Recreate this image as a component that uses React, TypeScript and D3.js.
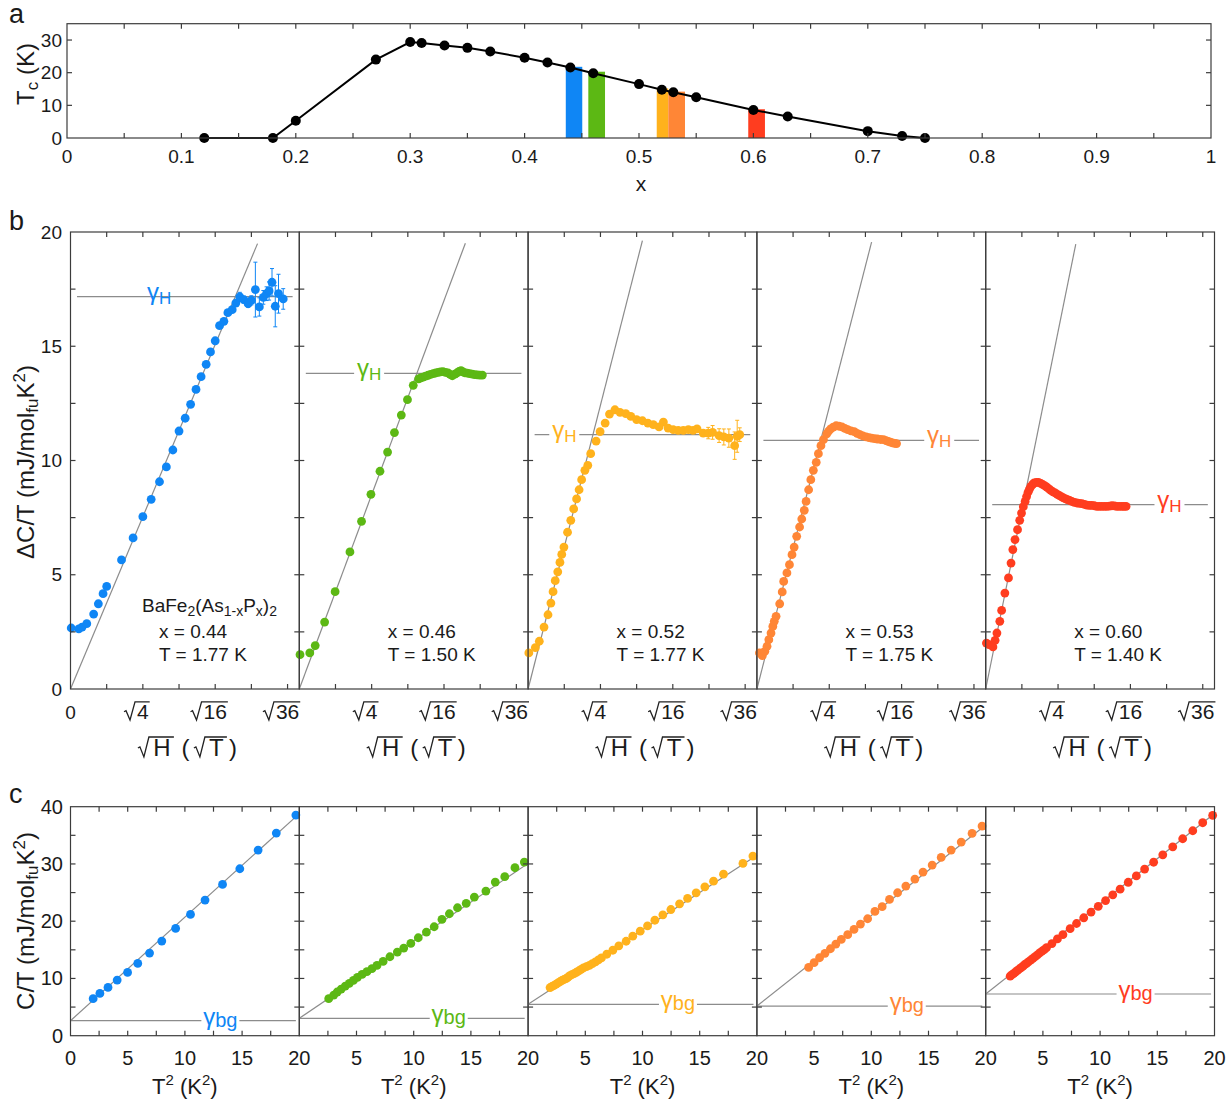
import React from "react";
import * as d3 from "d3";

const FONT = "'Liberation Sans', Arial, sans-serif";
const AX = "#3c3c3c";
const FIT = "#8c8c8c";

// ---- panel a: Tc(x) ----
const tcX = [0.12, 0.18, 0.2, 0.27, 0.3, 0.31, 0.33, 0.35, 0.37, 0.4, 0.42, 0.44, 0.46, 0.5, 0.52, 0.53, 0.55, 0.6, 0.63, 0.7, 0.73, 0.75];
const tcY = [0, 0, 5.3, 24, 29.4, 29.1, 28.3, 27.6, 26.5, 24.6, 23.1, 21.6, 19.8, 16.5, 14.8, 14.0, 12.5, 8.6, 6.6, 2.1, 0.6, 0];
const barLo = [0.436, 0.4557, 0.5155, 0.5256, 0.5955];
const barHi = [0.4504, 0.4703, 0.5256, 0.5402, 0.6101];
const barTop = [21.8, 20.3, 15.2, 14.2, 8.8];

const colors = ["#0f86f5", "#5cb814", "#ffb21c", "#ff8636", "#ff3d1f"];
const dopings = ["0.44", "0.46", "0.52", "0.53", "0.60"];
const temps = ["1.77", "1.50", "1.77", "1.75", "1.40"];

// ---- panel b: ΔC/T vs sqrt(H) ----
const b44x = [0.02, 0.23, 0.32, 0.45, 0.64, 0.77, 0.9, 1.0, 1.41, 1.73, 2.0, 2.23, 2.46, 2.65, 2.83, 3.0, 3.17, 3.32, 3.47, 3.61, 3.75, 3.87, 4.0, 4.12, 4.24, 4.35, 4.47, 4.57, 4.68, 4.79, 4.91, 5.0, 5.11, 5.22, 5.33, 5.42, 5.49, 5.57, 5.66, 5.75, 5.88];
const b44y = [2.67, 2.63, 2.71, 2.86, 3.28, 3.73, 4.17, 4.49, 5.65, 6.61, 7.54, 8.3, 9.07, 9.72, 10.46, 11.29, 11.85, 12.46, 13.11, 13.67, 14.21, 14.75, 15.24, 15.9, 16.09, 16.47, 16.6, 16.89, 17.16, 17.04, 16.86, 17.01, 17.48, 16.72, 17.14, 17.3, 17.42, 17.8, 16.75, 17.3, 17.07];
const b44e = [0, 0, 0, 0, 0, 0, 0, 0, 0, 0, 0, 0, 0, 0, 0, 0, 0, 0, 0, 0, 0, 0, 0, 0, 0, 0, 0, 0, 0.2, 0.15, 0.15, 0.2, 1.2, 0.4, 0.3, 0.3, 0.4, 0.6, 0.9, 0.85, 0.45];

const b46x = [0.02, 0.29, 0.44, 0.7, 0.99, 1.4, 1.72, 1.98, 2.23, 2.44, 2.63, 2.82, 2.99, 3.15, 3.3, 3.36, 3.42, 3.49, 3.56, 3.63, 3.7, 3.77, 3.84, 3.9, 3.97, 4.04, 4.11, 4.17, 4.23, 4.3, 4.36, 4.42, 4.47, 4.52, 4.57, 4.64, 4.71, 4.78, 4.85, 4.92, 4.99, 5.06];
const b46y = [1.5, 1.58, 1.9, 2.93, 4.26, 6.0, 7.34, 8.52, 9.53, 10.37, 11.22, 11.99, 12.66, 13.29, 13.57, 13.62, 13.65, 13.69, 13.73, 13.77, 13.8, 13.83, 13.86, 13.88, 13.89, 13.86, 13.83, 13.77, 13.71, 13.78, 13.83, 13.9, 13.93, 13.88, 13.84, 13.82, 13.8, 13.78, 13.76, 13.75, 13.74, 13.74];

const b52x = [0.02, 0.2, 0.31, 0.44, 0.55, 0.63, 0.69, 0.75, 0.82, 0.88, 0.93, 0.99, 1.09, 1.18, 1.26, 1.34, 1.41, 1.48, 1.57, 1.65, 1.73, 1.88, 1.99, 2.13, 2.25, 2.4, 2.54, 2.7, 2.84, 3.0, 3.16, 3.31, 3.46, 3.62, 3.74, 3.87, 4.01, 4.15, 4.29, 4.43, 4.56, 4.67, 4.84, 4.98, 5.1, 5.28, 5.41, 5.55, 5.71, 5.78, 5.85];
const b52y = [1.58, 1.81, 2.09, 2.71, 3.25, 3.76, 4.26, 4.74, 5.13, 5.54, 5.89, 6.21, 6.86, 7.38, 7.88, 8.32, 8.72, 9.16, 9.57, 9.79, 10.3, 10.85, 11.26, 11.64, 12.03, 12.22, 12.11, 12.05, 11.93, 11.79, 11.74, 11.64, 11.57, 11.47, 11.68, 11.42, 11.35, 11.32, 11.32, 11.35, 11.32, 11.38, 11.2, 11.2, 11.23, 11.09, 11.03, 10.98, 10.65, 11.06, 11.13];
const b52e = [0, 0, 0, 0, 0, 0, 0, 0, 0, 0, 0, 0, 0, 0, 0, 0, 0, 0, 0, 0, 0, 0, 0, 0, 0, 0, 0, 0, 0, 0, 0, 0, 0, 0, 0, 0, 0, 0, 0, 0, 0, 0, 0.15, 0.25, 0.3, 0.3, 0.35, 0.4, 0.6, 0.7, 0.3];

const b53x = [0.07, 0.15, 0.22, 0.28, 0.33, 0.39, 0.44, 0.48, 0.53, 0.63, 0.7, 0.74, 0.83, 0.9, 0.97, 1.03, 1.1, 1.18, 1.24, 1.31, 1.36, 1.43, 1.49, 1.56, 1.64, 1.7, 1.77, 1.84, 1.93, 1.98, 2.04, 2.11, 2.19, 2.27, 2.35, 2.43, 2.51, 2.6, 2.69, 2.77, 2.85, 2.93, 3.02, 3.1, 3.17, 3.25, 3.33, 3.42, 3.5, 3.57, 3.63, 3.69, 3.75, 3.81, 3.86];
const b53y = [1.58, 1.46, 1.65, 1.87, 2.16, 2.45, 2.74, 2.96, 3.18, 3.73, 4.25, 4.71, 5.08, 5.44, 5.88, 6.21, 6.68, 7.09, 7.44, 7.82, 8.21, 8.72, 9.16, 9.57, 9.92, 10.3, 10.65, 10.91, 11.17, 11.28, 11.38, 11.46, 11.52, 11.5, 11.47, 11.41, 11.35, 11.3, 11.26, 11.19, 11.13, 11.08, 11.03, 11.0, 10.98, 10.96, 10.94, 10.92, 10.91, 10.87, 10.84, 10.8, 10.77, 10.75, 10.74];

const b60x = [0.02, 0.09, 0.2, 0.26, 0.31, 0.39, 0.44, 0.53, 0.63, 0.7, 0.75, 0.81, 0.88, 0.94, 0.99, 1.04, 1.09, 1.13, 1.17, 1.21, 1.25, 1.3, 1.34, 1.4, 1.46, 1.52, 1.58, 1.64, 1.69, 1.75, 1.8, 1.86, 1.92, 1.98, 2.04, 2.1, 2.15, 2.21, 2.26, 2.32, 2.38, 2.45, 2.52, 2.59, 2.66, 2.73, 2.8, 2.87, 2.93, 3.0, 3.07, 3.14, 3.21, 3.28, 3.35, 3.42, 3.49, 3.56, 3.62, 3.69, 3.76, 3.82, 3.88];
const b60y = [2.01, 1.94, 1.84, 2.13, 2.45, 2.96, 3.44, 4.2, 4.86, 5.51, 6.1, 6.54, 6.97, 7.38, 7.7, 7.98, 8.21, 8.42, 8.61, 8.75, 8.87, 8.96, 9.02, 9.04, 9.04, 9.0, 8.94, 8.89, 8.83, 8.76, 8.69, 8.63, 8.58, 8.52, 8.46, 8.41, 8.36, 8.32, 8.29, 8.25, 8.21, 8.17, 8.14, 8.12, 8.11, 8.08, 8.05, 8.04, 8.04, 8.02, 7.99, 7.99, 7.99, 7.99, 7.99, 8.0, 8.02, 8.01, 7.99, 7.99, 7.99, 7.99, 7.99];

const bFitSlope = [3.77, 4.25, 6.21, 6.17, 7.82];
const bFitEnd = [5.17, 4.59, 3.16, 3.17, 2.49];
const gammaH = [17.17, 13.81, 11.13, 10.88, 8.07];
const gammaHLabelX = [2.45, 1.93, 1.0, 5.04, 5.08];

// ---- panel c: C/T vs T^2 ----
const c44x = [1.98, 2.57, 3.28, 4.08, 4.99, 5.88, 6.91, 7.98, 9.19, 10.49, 11.76, 13.29, 14.8, 16.4, 17.99, 19.7];
const c44y = [6.46, 7.39, 8.44, 9.72, 11.06, 12.63, 14.43, 16.53, 18.74, 21.19, 23.69, 26.42, 29.16, 32.42, 35.39, 38.53];
const c46x = [2.57, 3.01, 3.31, 3.66, 4.02, 4.37, 4.73, 5.08, 5.49, 5.91, 6.35, 6.79, 7.33, 7.92, 8.57, 9.13, 9.75, 10.4, 11.11, 11.79, 12.47, 13.12, 13.83, 14.59, 15.3, 16.31, 17.13, 17.96, 18.85, 19.67];
const c46y = [6.46, 7.1, 7.63, 8.15, 8.67, 9.14, 9.66, 10.19, 10.71, 11.18, 11.7, 12.28, 12.98, 13.79, 14.61, 15.31, 16.12, 17.11, 18.1, 19.03, 20.31, 21.3, 22.35, 23.11, 24.21, 25.26, 26.83, 27.77, 29.34, 30.33];
const c52x = [1.92, 2.1, 2.27, 2.45, 2.62, 2.8, 2.97, 3.15, 3.32, 3.47, 3.62, 3.82, 4.02, 4.22, 4.43, 4.63, 4.84, 5.1, 5.36, 5.62, 5.89, 6.15, 6.41, 6.88, 7.41, 7.93, 8.57, 9.15, 9.8, 10.44, 11.08, 11.78, 12.48, 13.24, 13.94, 14.69, 15.45, 16.21, 17.08, 18.78, 19.65];
const c52y = [8.4, 8.6, 8.8, 9.0, 9.21, 9.45, 9.68, 9.82, 9.97, 10.2, 10.44, 10.65, 10.85, 11.08, 11.31, 11.57, 11.84, 12.07, 12.3, 12.6, 12.89, 13.24, 13.59, 14.23, 14.93, 15.69, 16.5, 17.38, 18.25, 19.18, 20.17, 21.11, 22.04, 23.03, 23.97, 24.96, 26.01, 27.0, 28.22, 30.09, 31.37];
const c53x = [4.52, 5.0, 5.48, 5.95, 6.43, 6.9, 7.38, 7.94, 8.49, 9.05, 9.68, 10.32, 10.95, 11.59, 12.3, 13.02, 13.81, 14.52, 15.32, 16.11, 16.98, 17.86, 18.81, 19.68];
const c53y = [11.93, 12.75, 13.62, 14.38, 15.19, 16.01, 16.82, 17.64, 18.57, 19.5, 20.43, 21.71, 22.53, 23.81, 24.97, 26.13, 27.36, 28.58, 29.8, 31.14, 32.42, 33.82, 35.33, 36.61];
const c60x = [2.14, 2.3, 2.46, 2.62, 2.78, 2.94, 3.1, 3.26, 3.41, 3.57, 3.73, 3.93, 4.13, 4.32, 4.52, 4.72, 4.92, 5.12, 5.32, 5.79, 6.27, 6.75, 7.38, 7.94, 8.57, 9.21, 9.84, 10.48, 11.11, 11.75, 12.46, 13.17, 13.89, 14.68, 15.48, 16.35, 17.22, 18.1, 18.97, 19.84];
const c60y = [10.4, 10.65, 10.9, 11.15, 11.4, 11.65, 11.9, 12.15, 12.4, 12.65, 12.9, 13.2, 13.5, 13.8, 14.1, 14.45, 14.75, 15.05, 15.4, 16.1, 16.9, 17.65, 18.7, 19.6, 20.6, 21.6, 22.6, 23.6, 24.6, 25.6, 26.8, 27.9, 29.1, 30.3, 31.6, 33.0, 34.4, 35.8, 37.2, 38.5];

const gammaBg = [2.62, 3.03, 5.48, 5.18, 7.28];
const cFitAt20 = [38.8, 30.1, 31.5, 36.8, 38.8];
const gammaBgLabelX = [13.1, 13.06, 13.1, 13.1, 13.1];

const bSets = [
  { x: b44x, y: b44y, e: b44e },
  { x: b46x, y: b46y, e: null },
  { x: b52x, y: b52y, e: b52e },
  { x: b53x, y: b53y, e: null },
  { x: b60x, y: b60y, e: null },
];
const cSets = [
  { x: c44x, y: c44y },
  { x: c46x, y: c46y },
  { x: c52x, y: c52y },
  { x: c53x, y: c53y },
  { x: c60x, y: c60y },
];

// layout
const PL = 70.5;
const PR = 1214.5;
const SW = (PR - PL) / 5;
const lefts = d3.range(5).map((i) => PL + i * SW);

function Frame({ l, r, t, b, xs, ys }: { l: number; r: number; t: number; b: number; xs: number[]; ys: number[] }) {
  const L = 5;
  return (
    <g stroke={AX} strokeWidth={1.2} fill="none">
      {xs.map((x, i) => (
        <g key={"x" + i}>
          <line x1={x} x2={x} y1={b} y2={b - L} />
          <line x1={x} x2={x} y1={t} y2={t + L} />
        </g>
      ))}
      {ys.map((y, i) => (
        <g key={"y" + i}>
          <line x1={l} x2={l + L} y1={y} y2={y} />
          <line x1={r} x2={r - L} y1={y} y2={y} />
        </g>
      ))}
      <rect x={l} y={t} width={r - l} height={b - t} />
    </g>
  );
}

function Radical({ x0, x1, base, top }: { x0: number; x1: number; base: number; top: number }) {
  const h = base - top;
  const d = `M${x0 - 12},${base - h * 0.42} L${x0 - 10},${base - h * 0.48} L${x0 - 6},${base + 1} L${x0 - 1},${top} L${x1},${top}`;
  return <path d={d} fill="none" stroke="#222" strokeWidth={1.3} />;
}

function PanelA() {
  const x = d3.scaleLinear().domain([0, 1]).range([67, 1211]);
  const y = d3.scaleLinear().domain([0, 35]).range([138, 23.7]);
  const line = d3.line<number>().x((_, i) => x(tcX[i])).y((d) => y(d));
  const xt = d3.range(1, 20).map((k) => x(k * 0.05));
  const yt = [10, 20, 30].map((v) => y(v));
  return (
    <g>
      {barLo.map((lo, i) => (
        <rect key={i} x={x(lo)} width={x(barHi[i]) - x(lo)} y={y(barTop[i])} height={y(0) - y(barTop[i])} fill={colors[i]} />
      ))}
      <path d={line(tcY) || ""} fill="none" stroke="#000" strokeWidth={2} />
      {tcX.map((v, i) => (
        <circle key={i} cx={x(v)} cy={y(tcY[i])} r={5} fill="#000" />
      ))}
      <Frame l={x(0)} r={x(1)} t={y(35)} b={y(0)} xs={xt} ys={yt} />
      {d3.range(0, 11).map((k) => (
        <text key={k} x={x(k / 10)} y={163} textAnchor="middle" fontSize={19}>
          {k === 0 ? "0" : k === 10 ? "1" : (k / 10).toFixed(1)}
        </text>
      ))}
      {[0, 10, 20, 30].map((v) => (
        <text key={v} x={62} y={y(v)} dy="0.35em" textAnchor="end" fontSize={19}>
          {v}
        </text>
      ))}
      <text x={641} y={191} textAnchor="middle" fontSize={21}>x</text>
      <text transform="translate(34,74) rotate(-90)" textAnchor="middle" fontSize={24}>
        T<tspan fontSize={17} dy={4}>c</tspan>
        <tspan dy={-4}> (K)</tspan>
      </text>
      <text x={9} y={23} fontSize={27}>a</text>
    </g>
  );
}

function SqrtTick({ cx, label, base, fs }: { cx: number; label: string; base: number; fs: number }) {
  const w = label.length * 0.556 * fs;
  return (
    <g>
      <text x={cx} y={base} textAnchor="middle" fontSize={fs}>{label}</text>
      <Radical x0={cx - w / 2 - 1} x1={cx + w / 2 + 1} base={base} top={base - fs * 0.82} />
    </g>
  );
}

function SqrtTitle({ c, base }: { c: number; base: number }) {
  const fs = 24;
  const top = base - 19;
  return (
    <g fontSize={fs}>
      <Radical x0={c - 35} x1={c - 11} base={base} top={top} />
      <text x={c - 23} y={base} textAnchor="middle">H</text>
      <text x={c + 0.5} y={base} textAnchor="middle">(</text>
      <Radical x0={c + 21} x1={c + 42} base={base} top={top} />
      <text x={c + 31.5} y={base} textAnchor="middle">T</text>
      <text x={c + 48} y={base} textAnchor="middle">)</text>
    </g>
  );
}

function PanelB() {
  const y = d3.scaleLinear().domain([0, 20]).range([689, 232]);
  const xmax = Math.sqrt(40);
  return (
    <g>
      {bSets.map((s, i) => {
        const l = lefts[i];
        const x = d3.scaleLinear().domain([0, xmax]).range([l, l + SW]);
        const col = colors[i];
        const gy = y(gammaH[i]);
        const lx = x(gammaHLabelX[i]);
        return (
          <g key={i}>
            <line x1={x(0)} y1={y(0)} x2={x(bFitEnd[i])} y2={y(bFitSlope[i] * bFitEnd[i])} stroke={FIT} strokeWidth={1.2} />
            <line x1={x(0.18)} x2={x(6.14)} y1={gy} y2={gy} stroke={FIT} strokeWidth={1.2} />
            {i > 0 && <rect x={lx - 15} y={gy - 11} width={30} height={22} fill="#fff" />}
            <text x={lx} y={gy + 3} textAnchor="middle" fill={col} fontSize={24}>
              γ<tspan fontSize={17} dy={4}>H</tspan>
            </text>
            {s.e &&
              s.x.map((v, k) =>
                s.e![k] > 0 ? (
                  <g key={"e" + k} stroke={col} strokeWidth={1}>
                    <line x1={x(v)} x2={x(v)} y1={y(s.y[k] - s.e![k])} y2={y(s.y[k] + s.e![k])} />
                    <line x1={x(v) - 2} x2={x(v) + 2} y1={y(s.y[k] - s.e![k])} y2={y(s.y[k] - s.e![k])} />
                    <line x1={x(v) - 2} x2={x(v) + 2} y1={y(s.y[k] + s.e![k])} y2={y(s.y[k] + s.e![k])} />
                  </g>
                ) : null
              )}
            {s.x.map((v, k) => (
              <circle key={k} cx={x(v)} cy={y(s.y[k])} r={4.4} fill={col} />
            ))}
            <Frame l={l} r={l + SW} t={y(20)} b={y(0)} xs={[1, 2, 3, 4, 5, 6].map((v) => x(v))} ys={d3.range(2.5, 20, 2.5).map((v) => y(v))} />
            {i === 0 && <text x={x(0)} y={719} textAnchor="middle" fontSize={19}>0</text>}
            {[2, 4, 6].map((v) => (
              <SqrtTick key={v} cx={x(v)} label={String(v * v)} base={719} fs={21} />
            ))}
            <SqrtTitle c={l + SW / 2} base={756} />
            {i === 0 && (
              <text x={l + 139} y={612} textAnchor="middle" fontSize={19}>
                BaFe<tspan fontSize={14} dy={4}>2</tspan>
                <tspan dy={-4}>(As</tspan>
                <tspan fontSize={14} dy={4}>1-x</tspan>
                <tspan dy={-4}>P</tspan>
                <tspan fontSize={14} dy={4}>x</tspan>
                <tspan dy={-4}>)</tspan>
                <tspan fontSize={14} dy={4}>2</tspan>
              </text>
            )}
            <text x={l + 88.5} y={638} fontSize={19}>x = {dopings[i]}</text>
            <text x={l + 88.5} y={661} fontSize={19}>T = {temps[i]} K</text>
          </g>
        );
      })}
      {[0, 5, 10, 15, 20].map((v) => (
        <text key={v} x={62} y={y(v)} dy="0.35em" textAnchor="end" fontSize={19}>
          {v}
        </text>
      ))}
      <text transform="translate(34,462) rotate(-90)" textAnchor="middle" fontSize={24}>
        ΔC/T (mJ/mol<tspan fontSize={17} dy={4}>fu</tspan>
        <tspan dy={-4}>K</tspan>
        <tspan fontSize={17} dy={-9}>2</tspan>
        <tspan dy={9}>)</tspan>
      </text>
      <text x={9} y={230} fontSize={27}>b</text>
    </g>
  );
}

function PanelC() {
  const y = d3.scaleLinear().domain([0, 40]).range([1035.7, 806.7]);
  return (
    <g>
      {cSets.map((s, i) => {
        const l = lefts[i];
        const x = d3.scaleLinear().domain([0, 20]).range([l, l + SW]);
        const col = colors[i];
        const gy = y(gammaBg[i]);
        const lx = x(gammaBgLabelX[i]);
        return (
          <g key={i}>
            <line x1={x(0)} y1={gy} x2={x(20)} y2={y(cFitAt20[i])} stroke={FIT} strokeWidth={1.2} />
            <line x1={x(0)} x2={x(19.7)} y1={gy} y2={gy} stroke={FIT} strokeWidth={1.2} />
            <rect x={lx - 19} y={gy - 9} width={38} height={18} fill="#fff" />
            <text x={lx} y={gy + 4} textAnchor="middle" fill={col} fontSize={24}>
              γ<tspan fontSize={20} dy={2}>bg</tspan>
            </text>
            {s.x.map((v, k) => (
              <circle key={k} cx={x(v)} cy={y(s.y[k])} r={4.4} fill={col} />
            ))}
            <Frame l={l} r={l + SW} t={y(40)} b={y(0)} xs={d3.range(2.5, 20, 2.5).map((v) => x(v))} ys={d3.range(5, 40, 5).map((v) => y(v))} />
            {(i === 0 ? [0, 5, 10, 15, 20] : [5, 10, 15, 20]).map((v) => (
              <text key={v} x={x(v)} y={1065} textAnchor="middle" fontSize={20}>
                {v}
              </text>
            ))}
            <text x={l + SW / 2} y={1094} textAnchor="middle" fontSize={22}>
              T<tspan fontSize={15} dy={-9}>2</tspan>
              <tspan dy={9}> (K</tspan>
              <tspan fontSize={15} dy={-9}>2</tspan>
              <tspan dy={9}>)</tspan>
            </text>
          </g>
        );
      })}
      {[0, 10, 20, 30, 40].map((v) => (
        <text key={v} x={63} y={y(v)} dy="0.35em" textAnchor="end" fontSize={20}>
          {v}
        </text>
      ))}
      <text transform="translate(34,921) rotate(-90)" textAnchor="middle" fontSize={24}>
        C/T (mJ/mol<tspan fontSize={17} dy={4}>fu</tspan>
        <tspan dy={-4}>K</tspan>
        <tspan fontSize={17} dy={-9}>2</tspan>
        <tspan dy={9}>)</tspan>
      </text>
      <text x={9} y={803} fontSize={27}>c</text>
    </g>
  );
}

export default function App() {
  return (
    <svg
      width={1232}
      height={1102}
      style={{ position: "absolute", left: 0, top: 0, background: "#fff" }}
      fontFamily={FONT}
      fill="#1a1a1a"
    >
      <rect width={1232} height={1102} fill="#fff" />
      <PanelA />
      <PanelB />
      <PanelC />
    </svg>
  );
}
